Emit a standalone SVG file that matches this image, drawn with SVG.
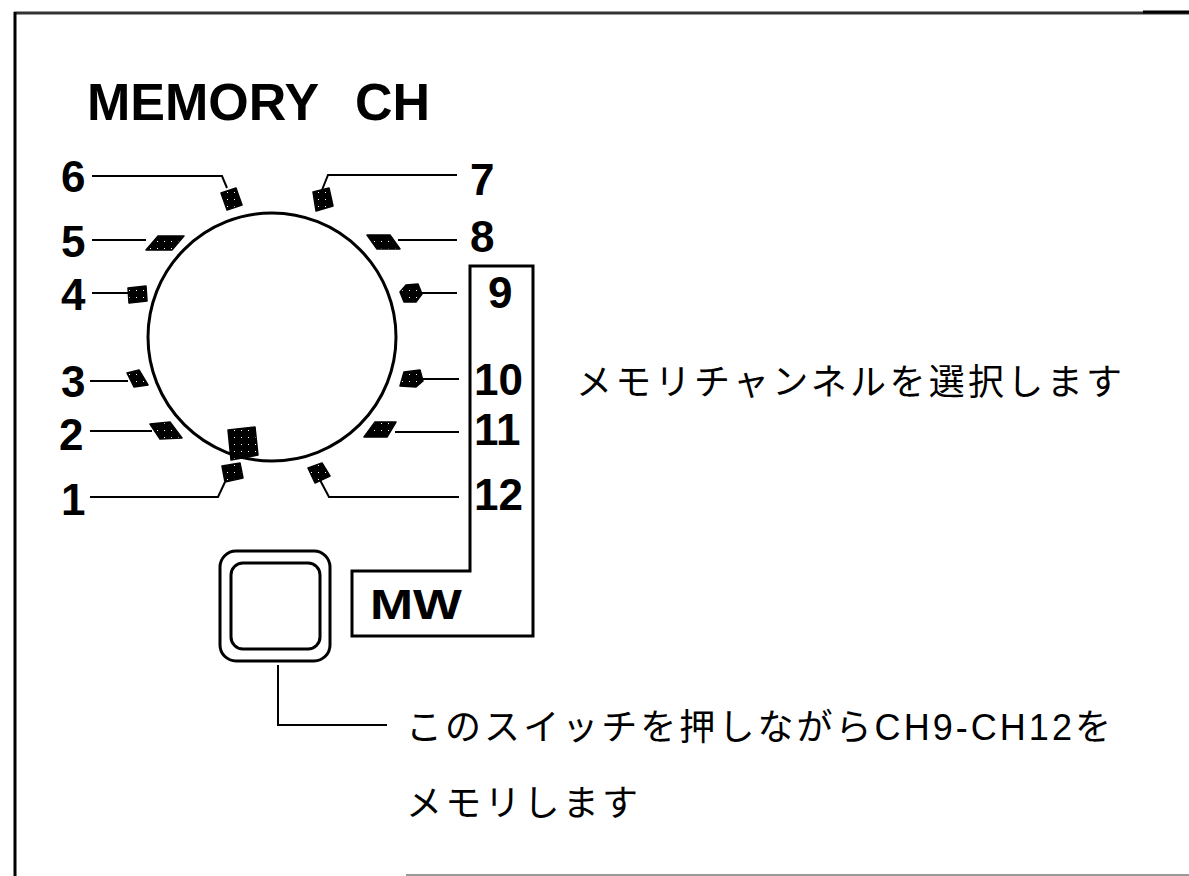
<svg xmlns="http://www.w3.org/2000/svg" width="1189" height="876" viewBox="0 0 1189 876">
  <style>
    .num { font-family: "Liberation Sans", Arial, sans-serif; font-weight: bold; font-size: 44px; fill: #000; }
    .title { font-family: "Liberation Sans", Arial, sans-serif; font-weight: bold; font-size: 52px; fill: #000; }
    .jp { font-family: "Liberation Sans", "Noto Sans CJK JP", sans-serif; font-size: 36px; fill: #000; }
    .lead { fill: none; stroke: #000; stroke-width: 2; }
    .heavy { fill: none; stroke: #000; stroke-width: 3; }
    .mark { fill: url(#speck); stroke: #000; stroke-width: 1.5; stroke-linejoin: round; }
  </style>
  <defs>
    <pattern id="speck" patternUnits="userSpaceOnUse" width="7" height="7">
      <rect width="7" height="7" fill="#000"/>
      <rect x="3" y="3" width="1" height="1" fill="#fff"/>
    </pattern>
  </defs>
  <rect width="1189" height="876" fill="#fff"/>

  <g id="frame">
    <line x1="14" y1="13" x2="1189" y2="13" stroke="#333" stroke-width="3"/>
    <line x1="1143" y1="12" x2="1189" y2="12" stroke="#000" stroke-width="3"/>
    <line x1="15" y1="12" x2="15" y2="876" stroke="#000" stroke-width="3"/>
    <line x1="406" y1="875" x2="1189" y2="875" stroke="#999" stroke-width="2"/>
  </g>

  <g id="title">
    <text class="title" x="87" y="120">MEMORY</text>
    <text class="title" x="355" y="120">CH</text>
  </g>

  <g id="dial">
    <circle cx="272" cy="337" r="124" class="heavy"/>
    <polygon class="mark" points="228,430 255,427 258,455 231,460"/>
  </g>

  <g id="connectors">
    <polyline class="lead" points="92,176 222,176 227,188"/>
    <polyline class="lead" points="457,175 328,175 322,190"/>
    <polyline class="lead" points="92,240 146,240"/>
    <polyline class="lead" points="398,240 457,240"/>
    <polyline class="lead" points="92,293 128,293"/>
    <polyline class="lead" points="422,293 457,293"/>
    <polyline class="lead" points="90,381 128,381"/>
    <polyline class="lead" points="423,379 459,379"/>
    <polyline class="lead" points="90,431 152,431"/>
    <polyline class="lead" points="395,432 459,432"/>
    <polyline class="lead" points="90,497 218,497 225,482"/>
    <polyline class="lead" points="459,497 329,497 320,480"/>
    <polyline class="lead" points="278,665 278,725 387,725"/>
  </g>

  <g id="ch1"><polygon class="mark" points="222,466 240,463 243,478 225,482"/><text class="num" x="61" y="515">1</text></g>
  <g id="ch2"><polygon class="mark" points="150,424 170,422 182,438 160,439"/><text class="num" x="59" y="450">2</text></g>
  <g id="ch3"><polygon class="mark" points="127,373 139,370 148,385 134,387"/><text class="num" x="61" y="397">3</text></g>
  <g id="ch4"><polygon class="mark" points="128,288 146,286 147,301 129,303"/><text class="num" x="61" y="310">4</text></g>
  <g id="ch5"><polygon class="mark" points="146,250 172,250 184,236 158,236"/><text class="num" x="61" y="257">5</text></g>
  <g id="ch6"><polygon class="mark" points="221,193 236,188 242,205 227,210"/><text class="num" x="61" y="192">6</text></g>
  <g id="ch7"><polygon class="mark" points="313,192 329,188 333,206 316,211"/><text class="num" x="470" y="195">7</text></g>
  <g id="ch8"><polygon class="mark" points="367,235 390,235 400,249 377,249"/><text class="num" x="470" y="252">8</text></g>
  <g id="ch9"><polygon class="mark" points="400,292 406,285 418,284 422,294 416,302 404,302"/><text class="num" x="488" y="308">9</text></g>
  <g id="ch10"><polygon class="mark" points="404,372 420,370 423,381 416,387 400,386"/><text class="num" x="474" y="395">10</text></g>
  <g id="ch11"><polygon class="mark" points="375,422 396,422 387,437 364,437"/><text class="num" x="474" y="445">11</text></g>
  <g id="ch12"><polygon class="mark" points="308,468 322,463 330,476 315,483"/><text class="num" x="474" y="510">12</text></g>

  <g id="mw-panel">
    <path class="heavy" d="M470,266 H533 V636 H352 V571 H470 Z"/>
    <text class="title" x="370" y="619" textLength="92" lengthAdjust="spacingAndGlyphs" style="font-size:42px">MW</text>
  </g>

  <g id="mw-switch">
    <rect class="heavy" x="220" y="551" width="110" height="110" rx="16"/>
    <rect class="heavy" x="231" y="563" width="89" height="86" rx="12"/>
  </g>

  <g id="note-select">
    <text class="jp" x="576" y="395" textLength="546">メモリチャンネルを選択します</text>
  </g>
  <g id="note-switch">
    <text class="jp" x="406" y="740" textLength="705">このスイッチを押しながらCH9-CH12を</text>
    <text class="jp" x="406" y="816" textLength="232">メモリします</text>
  </g>
</svg>
